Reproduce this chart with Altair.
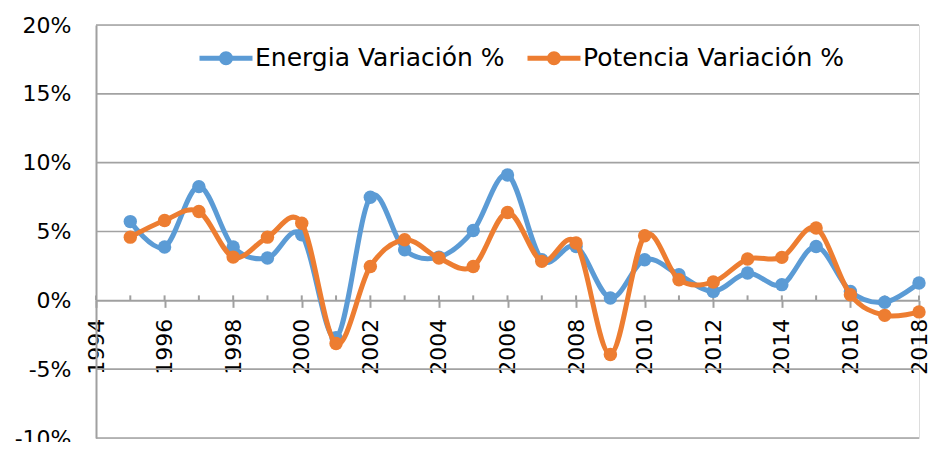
import altair as alt
import pandas as pd

years = list(range(1995, 2019))
energia = [5.72, 3.87, 8.26, 3.87, 3.07, 4.76, -2.72, 7.49, 3.67, 3.14, 5.07, 9.11,
           2.95, 3.91, 0.17, 2.95, 1.86, 0.65, 1.98, 1.14, 3.91, 0.65, -0.14, 1.26]
potencia = [4.59, 5.8, 6.45, 3.14, 4.59, 5.6, -3.14, 2.46, 4.4, 3.07, 2.46, 6.38,
            2.83, 4.16, -3.93, 4.69, 1.5, 1.33, 3.0, 3.12, 5.25, 0.41, -1.09, -0.84]
series_names = ["Energia Variación %", "Potencia Variación %"]
colors = ["#5B9BD5", "#ED7D31"]
y_ticks = [-0.10, -0.05, 0.0, 0.05, 0.10, 0.15, 0.20]
x_ticks = list(range(1994, 2019))

rows = []
for i, yr in enumerate(years):
    rows.append({"year": yr, "value": energia[i] / 100, "serie": series_names[0]})
    rows.append({"year": yr, "value": potencia[i] / 100, "serie": series_names[1]})
df = pd.DataFrame(rows)
ticks_df = pd.DataFrame({"year": x_ticks, "lo": [0.0] * len(x_ticks), "hi": [0.0036] * len(x_ticks)})
grid_df = pd.DataFrame({"value": [v for v in y_ticks if v != 0.0]})

FONT = "DejaVu Sans"
W, H = 823, 413
GRID = "#A2A2A2"

legend_path = ("M-1,0L1,0"
               "M-0.17,0A0.17,0.17,0,1,1,0.17,0A0.17,0.17,0,1,1,-0.17,0Z"
               "M-0.075,0A0.075,0.075,0,1,1,0.075,0A0.075,0.075,0,1,1,-0.075,0Z")

x_scale = alt.Scale(domain=[1994, 2018], nice=False, zero=False)
y_scale = alt.Scale(domain=[-0.10, 0.20], nice=False, zero=False)

x_enc = alt.X("year:Q", scale=x_scale,
              axis=alt.Axis(values=x_ticks, format="d", title=None,
                            labelExpr="datum.value % 2 == 0 ? datum.label : ''",
                            labelAngle=-90, labelFontSize=22, labelFont=FONT,
                            labelColor="#000000", labelPadding=11,
                            tickSize=7, tickColor="#A0A0A0", tickWidth=2,
                            domainColor="#A0A0A0", domainWidth=2,
                            grid=False, offset=-H / 3, labelOverlap=False))
y_enc = alt.Y("value:Q", scale=y_scale,
              axis=alt.Axis(values=y_ticks, format=".0%", title=None,
                            labelExpr="replace(datum.label, '\u2212', '-')",
                            labelFontSize=22, labelFont=FONT, labelColor="#000000",
                            labelPadding=25, ticks=False,
                            domainColor="#A0A0A0", domainWidth=2,
                            grid=False))
color_enc = alt.Color("serie:N",
                      scale=alt.Scale(domain=series_names, range=colors),
                      legend=alt.Legend(title=None, orient="none", direction="horizontal",
                                        columns=2, legendX=101, legendY=4, padding=0,
                                        symbolType=legend_path, symbolSize=2809,
                                        symbolStrokeWidth=5, labelFontSize=25,
                                        labelFont=FONT, labelColor="#000000",
                                        labelOffset=0, columnPadding=12,
                                        labelLimit=400))

grid = alt.Chart(grid_df).mark_rule(color=GRID, strokeWidth=1.6).encode(
    y=alt.Y("value:Q", scale=y_scale))

up_ticks = alt.Chart(ticks_df).mark_rule(color="#A0A0A0", strokeWidth=2).encode(
    x=alt.X("year:Q", scale=x_scale), y=alt.Y("lo:Q", scale=y_scale), y2="hi:Q")

base = alt.Chart(df)
layers = []
for name in series_names:
    sub = base.transform_filter(alt.datum.serie == name)
    layers.append(sub.mark_line(interpolate="cardinal", strokeWidth=5).encode(
        x=x_enc, y=y_enc, color=color_enc))
    layers.append(sub.mark_circle(size=180, opacity=1).encode(
        x=x_enc, y=y_enc, color=color_enc))

chart = alt.layer(grid, up_ticks, *layers).properties(
    width=W, height=H,
    autosize=alt.AutoSizeParams(type="none"),
    padding={"left": 88, "top": 17, "right": 9, "bottom": 4},
).configure_view(stroke=None).configure(font=FONT)

chart.save("out.html", embed_options={"renderer": "svg", "actions": False})
